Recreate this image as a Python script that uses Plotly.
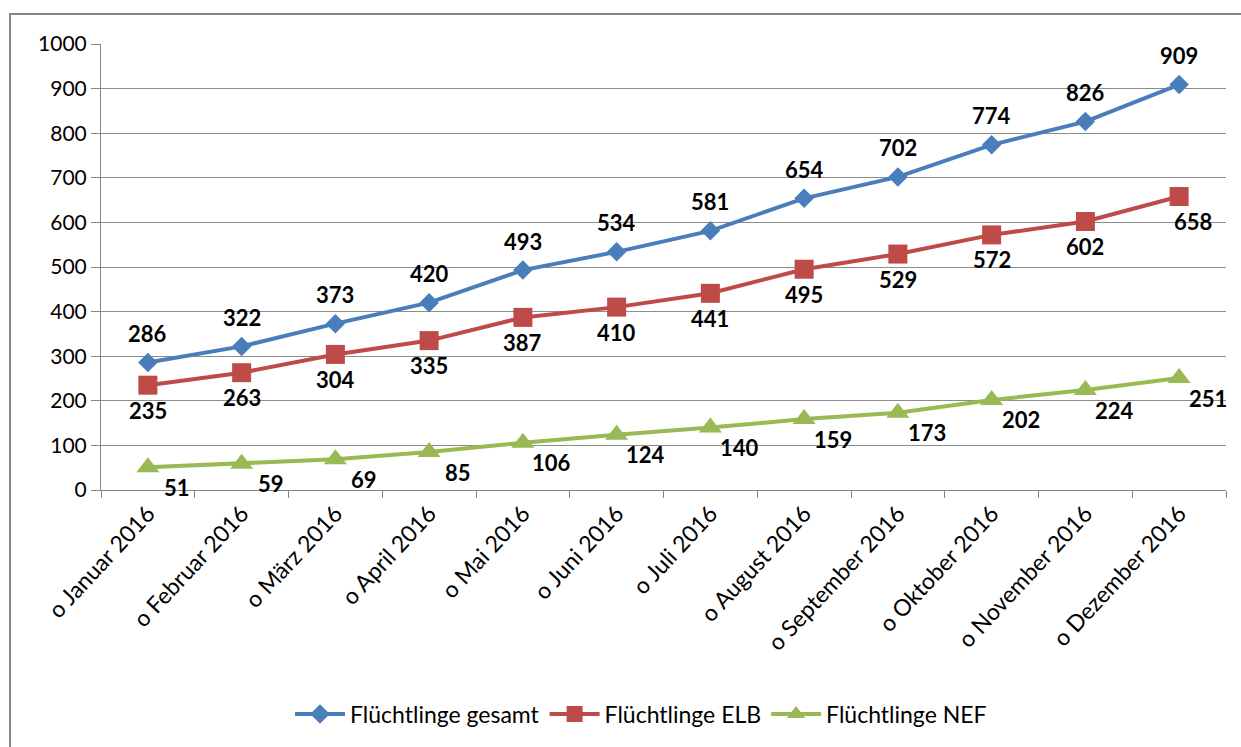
import plotly.graph_objects as go

months = ["o Januar 2016", "o Februar 2016", "o März 2016", "o April 2016", "o Mai 2016",
          "o Juni 2016", "o Juli 2016", "o August 2016", "o September 2016",
          "o Oktober 2016", "o November 2016", "o Dezember 2016"]
gesamt = [286, 322, 373, 420, 493, 534, 581, 654, 702, 774, 826, 909]
elb = [235, 263, 304, 335, 387, 410, 441, 495, 529, 572, 602, 658]
nef = [51, 59, 69, 85, 106, 124, 140, 159, 173, 202, 224, 251]

BLUE = "#4A7EBB"
RED = "#BE4B48"
GREEN = "#98B954"
FONT = "Lato, Noto Sans, sans-serif"

fig = go.Figure()
series = [
    ("Flüchtlinge gesamt", gesamt, BLUE, "diamond", 15),
    ("Flüchtlinge ELB", elb, RED, "square", 19),
    ("Flüchtlinge NEF", nef, GREEN, "triangle-up", 20),
]
for name, vals, col, sym, ms in series:
    fig.add_trace(go.Scatter(
        x=months, y=vals, name=name, mode="lines+markers",
        line=dict(color=col, width=4),
        marker=dict(symbol=sym, size=ms, color=col, line=dict(width=0)),
        cliponaxis=False,
    ))

annotations = []
for i, (m, v) in enumerate(zip(months, gesamt)):
    annotations.append(dict(x=m, y=v, text=f"<b>{v}</b>", showarrow=False, yshift=29))
for i, (m, v) in enumerate(zip(months, elb)):
    annotations.append(dict(x=m, y=v, text=f"<b>{v}</b>", showarrow=False, yshift=-25,
                            xshift=(14 if i == len(elb) - 1 else 0)))
for i, (m, v) in enumerate(zip(months, nef)):
    annotations.append(dict(x=m, y=v, text=f"<b>{v}</b>", showarrow=False, yshift=-20, xshift=29))
for a in annotations:
    a["font"] = dict(family=FONT, size=22, color="#000000")

W, H = 1241, 747
L, R, T, B = 101, 15, 44, 257
pw = W - L - R
ph = H - T - B

def px_x(x):
    return (x - L) / pw

def px_y(y):
    return (H - B - y) / ph

fig.update_layout(
    width=W, height=H,
    margin=dict(l=L, r=R, t=T, b=B),
    paper_bgcolor="white", plot_bgcolor="white",
    font=dict(family=FONT, size=19, color="#000000"),
    annotations=annotations,
    showlegend=True,
    legend=dict(orientation="h", x=px_x(641), y=px_y(714), xanchor="center", yanchor="middle",
                font=dict(family=FONT, size=23, color="#000000"), itemwidth=50,
                traceorder="normal"),
    xaxis=dict(
        type="category", tickangle=-47, showgrid=False,
        showline=True, linecolor="#868686", linewidth=1,
        ticks="outside", tickson="boundaries", ticklen=7, tickcolor="#868686",
        tickfont=dict(family=FONT, size=23, color="#000000"),
        range=[-0.5, 11.5],
    ),
    yaxis=dict(
        range=[0, 1000], dtick=100, showgrid=True, gridcolor="#8C8C8C", gridwidth=1,
        showline=True, linecolor="#868686", linewidth=1,
        ticks="outside", ticklen=9, tickcolor="#868686",
        tickfont=dict(family=FONT, size=21, color="#000000"),
        zeroline=False,
    ),
    shapes=[dict(type="rect", xref="paper", yref="paper",
                 x0=px_x(10), x1=px_x(1250), y0=px_y(760), y1=px_y(14),
                 line=dict(color="#868686", width=2), fillcolor="rgba(0,0,0,0)", layer="below")],
)

fig.write_html("out.html")
